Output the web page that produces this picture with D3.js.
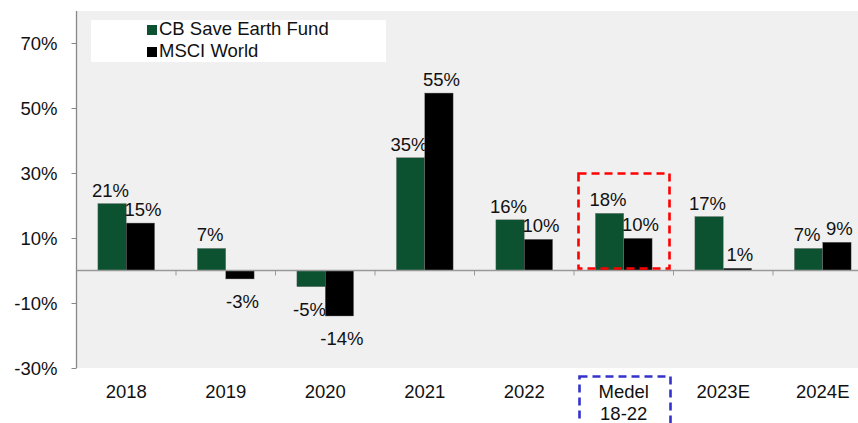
<!DOCTYPE html>
<html><head><meta charset="utf-8">
<script src="https://cdn.jsdelivr.net/npm/d3@7"></script>
<style>body{margin:0;background:#fff}svg{display:block}text{font-family:"Liberation Sans",Arial,sans-serif;fill:#111}</style>
</head><body><svg id="c" width="858" height="423"></svg>
<script>
const categories = ["2018","2019","2020","2021","2022","Medel\n18-22","2023E","2024E"];
const fund = [20.6, 6.8, -5.0, 34.7, 15.6, 17.6, 16.6, 6.8];
const msci = [14.6, -2.6, -14.0, 54.6, 9.6, 9.9, 0.7, 8.7];
const seriesNames = ["CB Save Earth Fund","MSCI World"];
const colors = ["#0c5230","#000000"];
const yTicks = [-30,-10,10,30,50,70];

(function(){
const FS = "18.5px";
const svg = d3.select("#c");
const pl = 76.5, pr = 872.5, pt = 11, pb = 368;
const x = d3.scaleBand().domain(categories).range([pl, pr]).paddingInner(0.43).paddingOuter(0.215);
const x1 = d3.scaleBand().domain([0,1]).range([0, x.bandwidth()]);
const y = d3.scaleLinear().domain([-30,70]).range([pb, 43]);

svg.append("rect").attr("x",pl).attr("y",pt).attr("width",pr-pl).attr("height",pb-pt).attr("fill","#f0f0f0");

// y axis
const ya = svg.append("g").attr("transform",`translate(${pl},0)`)
  .call(d3.axisLeft(y).tickValues(yTicks).tickFormat(d=>d+"%").tickSize(5).tickSizeOuter(0));
ya.select(".domain").remove();
ya.selectAll("line").attr("stroke","#888");
ya.selectAll("text").attr("x",-19).attr("dy","0.36em").style("font-size",FS).style("font-family","Liberation Sans, Arial, sans-serif").attr("fill","#111");
svg.append("line").attr("x1",pl).attr("x2",pl).attr("y1",pt).attr("y2",pb).attr("stroke","#888").attr("stroke-width",1.3);

// legend
svg.append("rect").attr("x",91).attr("y",20).attr("width",295).attr("height",42).attr("fill","#fff");
seriesNames.forEach((n,i)=>{
  const ly = 29 + i*22;
  svg.append("rect").attr("x",147).attr("y",ly-4).attr("width",10).attr("height",10).attr("fill",colors[i]);
  svg.append("text").attr("x",159).attr("y",ly+6).style("font-size",FS).text(n);
});

// bars
const data = [fund, msci];
data.forEach((vals,s)=>{
  svg.append("g").selectAll("rect").data(vals).join("rect")
    .attr("x",(d,i)=>x(categories[i])+x1(s))
    .attr("width",x1.bandwidth())
    .attr("y",d=>y(Math.max(0,d)))
    .attr("height",d=>Math.abs(y(d)-y(0)))
    .attr("fill",colors[s]).attr("stroke","#777").attr("stroke-width",0.4);
  svg.append("g").selectAll("text").data(vals).join("text")
    .attr("x",(d,i)=>x(categories[i])+x1(s)+x1.bandwidth()/2 + (s===0?-1.5:2.5))
    .attr("y",d=>d>=0? y(d)-7 : y(d)+29)
    .attr("text-anchor","middle").style("font-size",FS)
    .text(d=>Math.round(d)+"%");
});

// zero line + ticks
svg.append("line").attr("x1",pl).attr("x2",pr).attr("y1",y(0)).attr("y2",y(0)).attr("stroke","#999").attr("stroke-width",1.3);
for(let i=1;i<categories.length;i++){
  const tx = pl + i*(pr-pl)/categories.length;
  svg.append("line").attr("x1",tx).attr("x2",tx).attr("y1",y(0)).attr("y2",y(0)+5).attr("stroke","#999");
}

// x labels
categories.forEach(c=>{
  const cx = x(c)+x.bandwidth()/2;
  c.split("\n").forEach((l,j)=>{
    svg.append("text").attr("x",cx).attr("y",398+j*22).attr("text-anchor","middle").style("font-size",FS).text(l);
  });
});

// highlight boxes
svg.append("rect").attr("x",578.5).attr("y",173.5).attr("width",91).attr("height",95)
  .attr("fill","none").attr("stroke","#ff0000").attr("stroke-width",2.6).attr("stroke-dasharray","8,5");
svg.append("rect").attr("x",579.5).attr("y",376.5).attr("width",91).attr("height",60)
  .attr("fill","none").attr("stroke","#3333cc").attr("stroke-width",2.6).attr("stroke-dasharray","8,5");
})();
</script></body></html>
